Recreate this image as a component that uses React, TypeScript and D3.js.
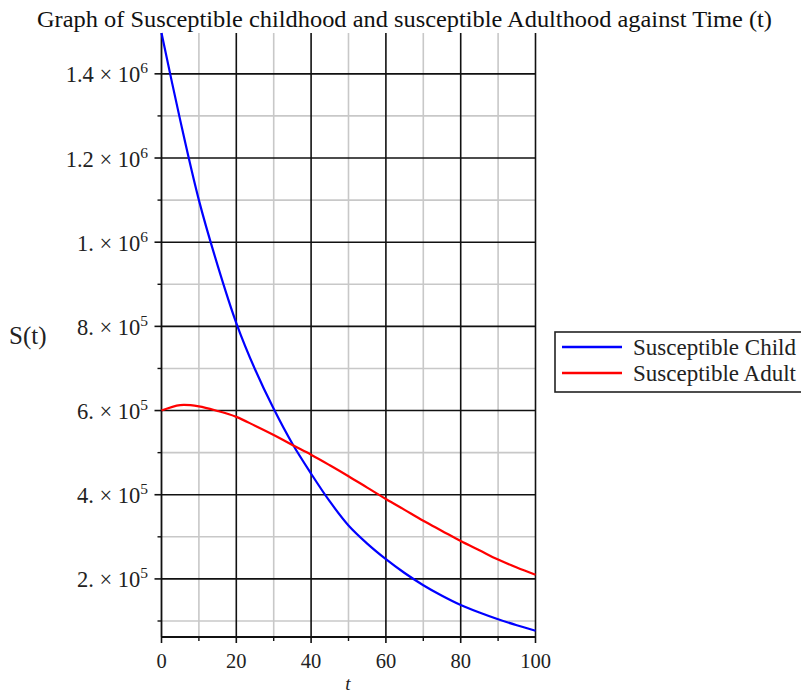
import React from "react";
import * as d3 from "d3";

const timePoints = [0, 5, 10, 15, 20, 25, 30, 35, 40, 45, 50, 55, 60, 65, 70, 75, 80, 85, 90, 95, 100];
const childValues = [1497000, 1290000, 1100000, 945000, 808000, 698000, 604000, 521000, 450000, 384000, 327000, 284000, 247000, 214000, 185000, 160000, 138000, 120000, 104000, 90000, 77000];
const adultValues = [600000, 613000, 610000, 599000, 585000, 564000, 542000, 518000, 495000, 470000, 444000, 417000, 390000, 364000, 338000, 314000, 290000, 268000, 246000, 227000, 210000];

const xMajorTicks = [0, 20, 40, 60, 80, 100];
const xMinorTicks = [10, 30, 50, 70, 90];
const yMajorTicks = [200000, 400000, 600000, 800000, 1000000, 1200000, 1400000];
const yMajorMantissa = ["2.", "4.", "6.", "8.", "1.", "1.2", "1.4"];
const yMajorExponent = ["5", "5", "5", "5", "6", "6", "6"];
const yMinorTicks = [100000, 300000, 500000, 700000, 900000, 1100000, 1300000];

const seriesNames = ["Susceptible Child", "Susceptible Adult"];
const seriesColors = ["#0000ff", "#ff0000"];

const titleText = "Graph of Susceptible childhood and susceptible Adulthood against Time (t)";

const FONT = "'Liberation Serif', 'Times New Roman', serif";

export default function App() {
  const x = d3.scaleLinear().domain([0, 100]).range([161.5, 535.5]);
  const y = d3.scaleLinear().domain([62000, 1497000]).range([637, 33]);
  const [y0, y1] = [y.range()[0], y.range()[1]];
  const [x0, x1] = [x.range()[0], x.range()[1]];

  const line = d3
    .line<number>()
    .x((_, i) => x(timePoints[i]))
    .y((d) => y(d))
    .curve(d3.curveCatmullRom);

  const series = [childValues, adultValues];

  return (
    <svg
      width={801}
      height={693}
      style={{ position: "absolute", left: 0, top: 0, background: "#fff" }}
      fontFamily={FONT}
    >
      <rect width={801} height={693} fill="#fff" />
      <text x={37} y={27} fontSize={23} fill="#111" textLength={735} lengthAdjust="spacingAndGlyphs">
        {titleText}
      </text>

      {/* minor grid */}
      {xMinorTicks.map((t) => (
        <line key={"xm" + t} x1={x(t)} x2={x(t)} y1={y1} y2={y0} stroke="#c8c8c8" strokeWidth={1.6} />
      ))}
      {yMinorTicks.map((v) => (
        <line key={"ym" + v} x1={x0} x2={x1} y1={y(v)} y2={y(v)} stroke="#c8c8c8" strokeWidth={1.6} />
      ))}
      {/* major grid */}
      {xMajorTicks.slice(1).map((t) => (
        <line key={"xM" + t} x1={x(t)} x2={x(t)} y1={y1} y2={y0} stroke="#111" strokeWidth={1.6} />
      ))}
      {yMajorTicks.map((v) => (
        <line key={"yM" + v} x1={x0} x2={x1} y1={y(v)} y2={y(v)} stroke="#111" strokeWidth={1.6} />
      ))}

      {/* axes */}
      <line x1={x0} x2={x0} y1={y1} y2={y0} stroke="#111" strokeWidth={1.8} />
      <line x1={x0} x2={x1} y1={y0} y2={y0} stroke="#111" strokeWidth={1.8} />

      {/* ticks */}
      {xMajorTicks.map((t) => (
        <line key={"xt" + t} x1={x(t)} x2={x(t)} y1={y0} y2={y0 + 6} stroke="#111" strokeWidth={1.6} />
      ))}
      {xMinorTicks.map((t) => (
        <line key={"xtm" + t} x1={x(t)} x2={x(t)} y1={y0} y2={y0 + 4} stroke="#111" strokeWidth={1.4} />
      ))}
      {yMajorTicks.map((v) => (
        <line key={"yt" + v} x1={x0 - 7} x2={x0} y1={y(v)} y2={y(v)} stroke="#111" strokeWidth={1.6} />
      ))}
      {yMinorTicks.map((v) => (
        <line key={"ytm" + v} x1={x0 - 4} x2={x0} y1={y(v)} y2={y(v)} stroke="#111" strokeWidth={1.4} />
      ))}

      {/* tick labels */}
      {xMajorTicks.map((t) => (
        <text key={"xl" + t} x={x(t)} y={668} textAnchor="middle" fontSize={20.5} fill="#222">
          {t}
        </text>
      ))}
      {yMajorTicks.map((v, i) => (
        <text key={"yl" + v} x={148} y={y(v) + 8.5} textAnchor="end" fontSize={22.5} fill="#222">
          <tspan>{yMajorMantissa[i] + " \u00d7 10"}</tspan>
          <tspan dy={-9} fontSize={15.5}>
            {yMajorExponent[i]}
          </tspan>
        </text>
      ))}

      {/* axis labels */}
      <text x={9} y={344} fontSize={25} fill="#222">
        S(t)
      </text>
      <text x={348} y={690} fontSize={19} fontStyle="italic" textAnchor="middle" fill="#222">
        t
      </text>

      {/* curves */}
      {series.map((s, i) => (
        <path key={"s" + i} d={line(s) || ""} fill="none" stroke={seriesColors[i]} strokeWidth={2.2} />
      ))}

      {/* legend */}
      <rect x={555} y={332} width={250} height={60} fill="#fff" stroke="#222" strokeWidth={1.6} />
      {seriesNames.map((n, i) => (
        <g key={"lg" + i}>
          <line x1={562} x2={622} y1={347 + i * 26} y2={347 + i * 26} stroke={seriesColors[i]} strokeWidth={2.6} />
          <text x={633} y={355 + i * 26} fontSize={23} fill="#222">
            {n}
          </text>
        </g>
      ))}
    </svg>
  );
}
